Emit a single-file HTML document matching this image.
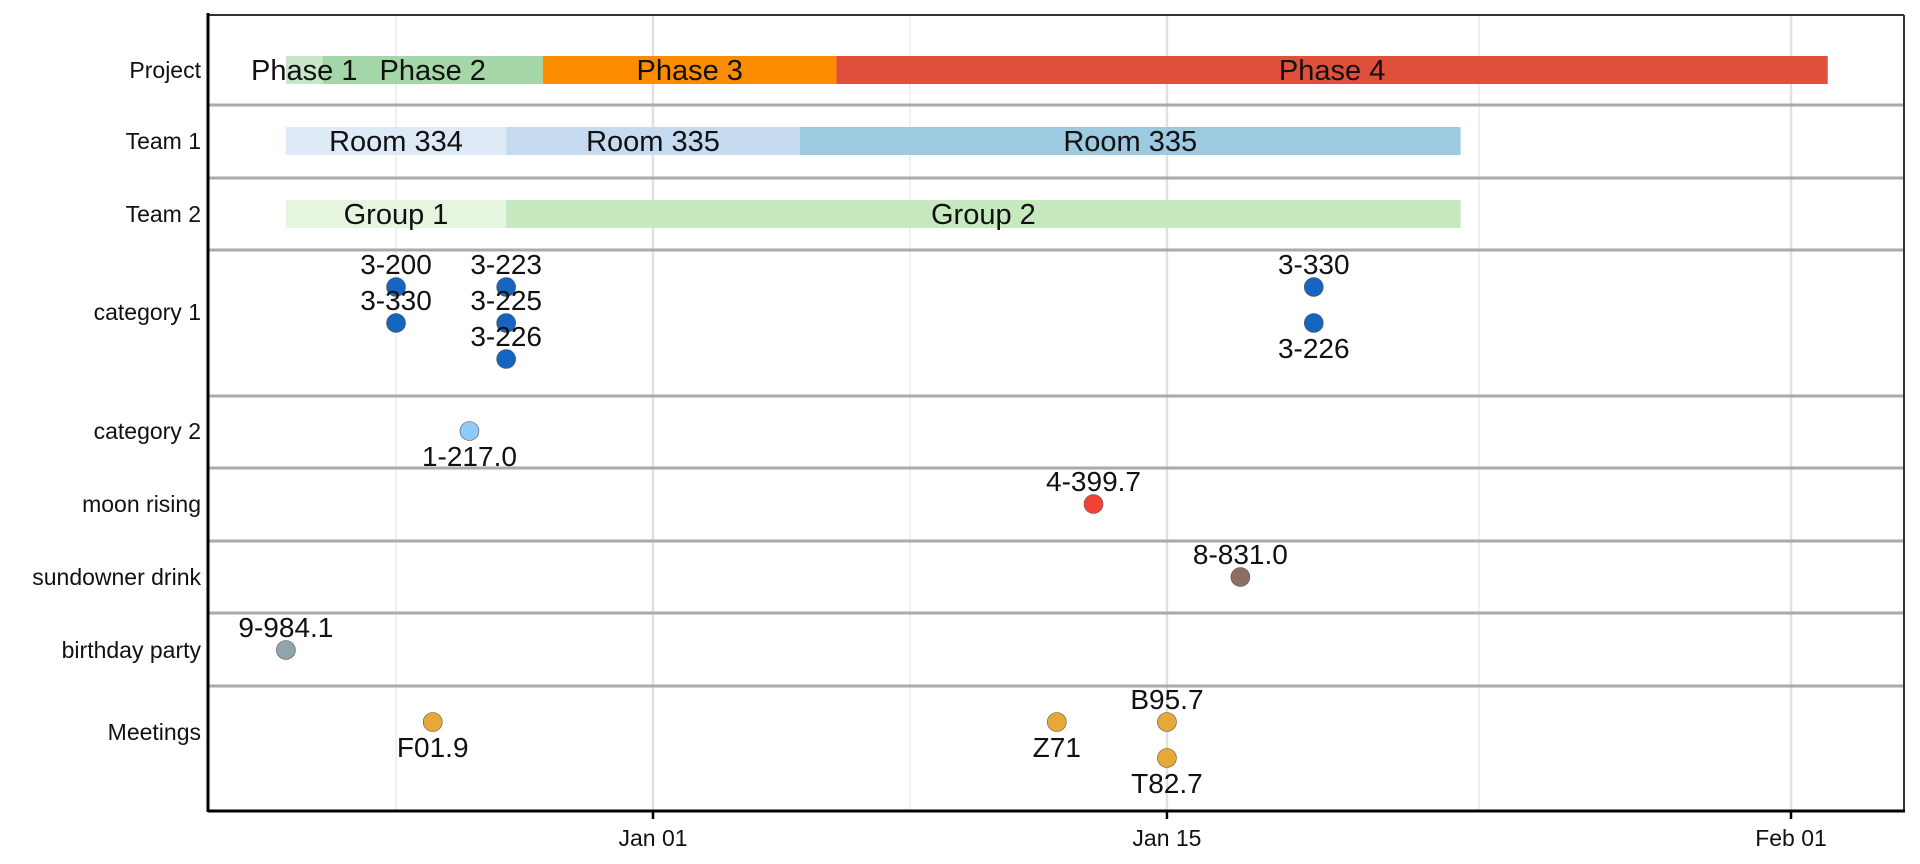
<!DOCTYPE html>
<html><head><meta charset="utf-8"><style>
html,body{margin:0;padding:0;background:#fff;}
svg{display:block;font-family:"Liberation Sans",sans-serif;}
</style></head><body>
<svg id="chart" width="1920" height="864" viewBox="0 0 1920 864" xmlns="http://www.w3.org/2000/svg"></svg>
<script>
// ---- data ----
const rowNames = ["Project","Team 1","Team 2","category 1","category 2","moon rising","sundowner drink","birthday party","Meetings"];
const barRows = ["Project","Project","Project","Project","Team 1","Team 1","Team 1","Team 2","Team 2"];
const barLabels = ["Phase 1","Phase 2","Phase 3","Phase 4","Room 334","Room 335","Room 335","Group 1","Group 2"];
const barStarts = [-10,-9,-3,5,-10,-4,4,-10,-4]; // days from Jan 01
const barEnds = [-9,-3,5,32,-4,4,22,-4,22];
const barColors = ["#c8e6c9","#a5d6a7","#fb8c00","#e04f3b","#deeaf6","#c6dbef","#9ecae1","#e5f5e0","#c7e9c0"];
const ptRows = ["category 1","category 1","category 1","category 1","category 1","category 1","category 1","category 2","moon rising","sundowner drink","birthday party","Meetings","Meetings","Meetings","Meetings"];
const ptDays = [-7,-7,-4,-4,-4,18,18,-5,12,16,-10,-6,11,14,14];
const ptLevels = [0,1,0,1,2,0,1,0,0,0,0,0,0,0,1];
const ptLabels = ["3-200","3-330","3-223","3-225","3-226","3-330","3-226","1-217.0","4-399.7","8-831.0","9-984.1","F01.9","Z71","B95.7","T82.7"];
const ptAbove = [1,1,1,1,1,1,0,0,1,1,1,0,0,1,0];
const ptColors = ["#1565c0","#1565c0","#1565c0","#1565c0","#1565c0","#1565c0","#1565c0","#90caf9","#f44336","#8d6e63","#90a4ae","#e8a838","#e8a838","#e8a838","#e8a838"];
const tickDays = [0,14,31];
const tickLabels = ["Jan 01","Jan 15","Feb 01"];
const minorDays = [-7,7,22.5];
// ---- layout ----
const L=208,R=1904,T=15,B=811;
const x = d => 653 + d*36.71;
const rowBots = [105,178,250,396,468,541,613,686,811];
const rowCenters = [70,141,214,287,431,504,577,650,722];
const labelYs = [70,141,214,312,431,504,577,650,732];
const svg=document.getElementById('chart');
const NS='http://www.w3.org/2000/svg';
function mk(tag,attrs,parent){const e=document.createElementNS(NS,tag);for(const k in attrs)e.setAttribute(k,attrs[k]);(parent||svg).appendChild(e);return e;}
// grid
minorDays.forEach(d=>{const g=mk('line',{x1:x(d),x2:x(d),y1:T,y2:B,stroke:'#ebebeb','stroke-width':1.5});

});
tickDays.forEach((d,i)=>{const g=mk('line',{x1:x(d),x2:x(d),y1:T,y2:B,stroke:'#e0e0e0','stroke-width':2.5});


const tk=mk('line',{x1:x(d),x2:x(d),y1:B,y2:B+8,stroke:'#000','stroke-width':2.5});


const t=mk('text',{x:x(d),y:846,'text-anchor':'middle','font-size':23,fill:'#111'});t.textContent=tickLabels[i];

});
// row separators
rowBots.slice(0,-1).forEach(y=>{const s=mk('line',{x1:L,x2:R,y1:y,y2:y,stroke:'#aaa','stroke-width':3});

});
// row labels
rowNames.forEach((n,i)=>{const t=mk('text',{x:201,y:labelYs[i]+8,'text-anchor':'end','font-size':23,fill:'#111'});t.textContent=n;

});
// bars
barLabels.forEach((lab,i)=>{const ri=rowNames.indexOf(barRows[i]);const cy=rowCenters[ri];
const r=mk('rect',{x:x(barStarts[i]),y:cy-14,width:x(barEnds[i])-x(barStarts[i]),height:28,fill:barColors[i]});

});
barLabels.forEach((lab,i)=>{const ri=rowNames.indexOf(barRows[i]);const cy=rowCenters[ri];
const t=mk('text',{x:(x(barStarts[i])+x(barEnds[i]))/2,y:cy+10,'text-anchor':'middle','font-size':29,fill:'#111'});t.textContent=lab;

});
// points
ptLabels.forEach((lab,i)=>{const ri=rowNames.indexOf(ptRows[i]);const cy=rowCenters[ri]+ptLevels[i]*36;const cx=x(ptDays[i]);
const c=mk('circle',{cx:cx,cy:cy,r:9.5,fill:ptColors[i],stroke:'#555','stroke-width':0.6});


const t=mk('text',{x:cx,y:ptAbove[i]?cy-13:cy+35,'text-anchor':'middle','font-size':28,fill:'#111'});t.textContent=lab;

});
// axes frame
const topBorder=mk('line',{x1:L,x2:R,y1:T,y2:T,stroke:'#333','stroke-width':2});


const rightBorder=mk('line',{x1:R,x2:R,y1:T,y2:B,stroke:'#333','stroke-width':2});


const yAxisLine=mk('line',{x1:L,x2:L,y1:T-2,y2:B+1,stroke:'#000','stroke-width':3});


const xAxisLine=mk('line',{x1:L,x2:R+1,y1:B,y2:B,stroke:'#000','stroke-width':3});


</script>
</body></html>
